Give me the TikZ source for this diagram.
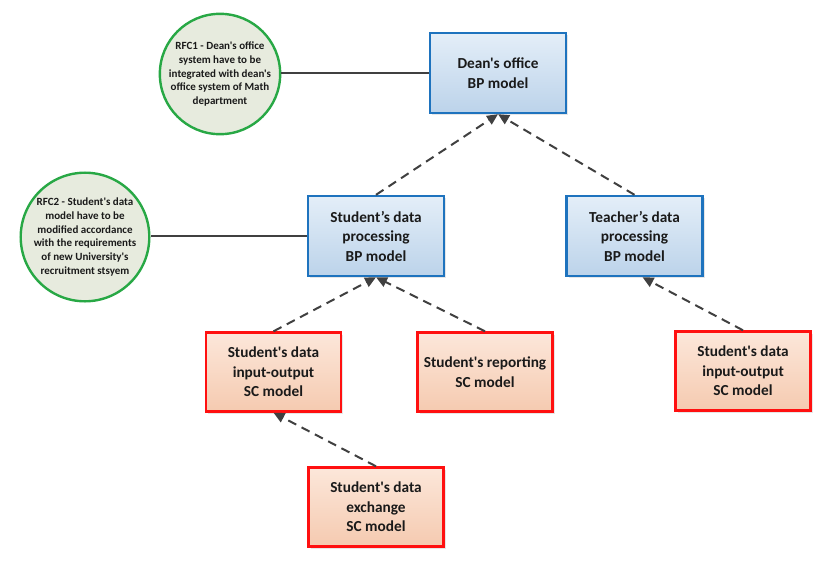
\documentclass[tikz,border=0pt]{standalone}
\usepackage{fontspec}
\newfontfamily\cf{Carlito}
\usetikzlibrary{arrows.meta,shadows}
\definecolor{bpborder}{HTML}{1E73BE}
\definecolor{bptop}{HTML}{E4EEF8}
\definecolor{bpbot}{HTML}{BCD3EA}
\definecolor{scborder}{HTML}{FF1010}
\definecolor{sctop}{HTML}{FCE7DA}
\definecolor{scbot}{HTML}{F5CAB0}
\definecolor{rfcborder}{HTML}{28A845}
\definecolor{rfcfill}{HTML}{E7EBDE}
\definecolor{conn}{HTML}{404040}
\definecolor{txt}{HTML}{1A1A1A}
\tikzset{
  bpbox/.style={draw=bpborder, line width=2.4pt, top color=bptop, bottom color=bpbot,
    minimum width=136pt, minimum height=80pt, align=center, font=\cf\bfseries\fontsize{15.3}{19.5}\selectfont,
    text=txt, drop shadow={opacity=0.2, shadow xshift=2pt, shadow yshift=-2pt}},
  scbox/.style={draw=scborder, line width=2.4pt, top color=sctop, bottom color=scbot,
    minimum width=135pt, minimum height=79pt, align=center, font=\cf\bfseries\fontsize{15.3}{19.5}\selectfont,
    text=txt, drop shadow={opacity=0.2, shadow xshift=2pt, shadow yshift=-2pt}},
  rfc/.style={circle, draw=rfcborder, line width=2.4pt, fill=rfcfill, minimum size=120pt,
    inner sep=0pt, align=center, font=\cf\bfseries\fontsize{11}{13.7}\selectfont, text=txt},
  solidlink/.style={draw=conn, line width=1.3pt},
  deplink/.style={draw=conn, line width=2pt, dash pattern=on 9pt off 6pt,
    -{Triangle[length=11pt,width=10pt]}}
}
\begin{document}
\begin{tikzpicture}[x=1pt,y=-1pt]
\useasboundingbox (0,0) rectangle (840,570);
\node[bpbox] (dean) at (498,73) {Dean's office\\BP model};
\node[bpbox] (sdp) at (376,236) {Student’s data\\processing\\BP model};
\node[bpbox] (tdp) at (634.5,236) {Teacher’s data\\processing\\BP model};
\node[scbox] (sio) at (273.5,372) {Student's data\\input-output\\SC model};
\node[scbox] (srep) at (485,372) {Student's reporting\\SC model};
\node[scbox] (tio) at (743,371) {Student's data\\input-output\\SC model};
\node[scbox] (sex) at (376,507) {Student's data\\exchange\\SC model};
\node[rfc] (rfc1) at (220,74) {RFC1 - Dean's office\\system have to be\\integrated with dean's\\office system of Math\\department};
\node[rfc] (rfc2) at (85,237) {RFC2 - Student's data\\model have to be\\modified accordance\\with the requirements\\of new University's\\recruitment stsyem};
\draw[solidlink] (rfc1.east |- dean.west) -- (dean.west);
\draw[solidlink] (rfc2.east |- sdp.west) -- (sdp.west);
\draw[deplink] (sdp.north) -- (dean.south);
\draw[deplink] (tdp.north) -- (dean.south);
\draw[deplink] (sio.north) -- (sdp.south);
\draw[deplink] (srep.north) -- (sdp.south);
\draw[deplink] (tio.north) -- ([xshift=8pt]tdp.south);
\draw[deplink] (sex.north) -- (sio.south);
\end{tikzpicture}
\end{document}
